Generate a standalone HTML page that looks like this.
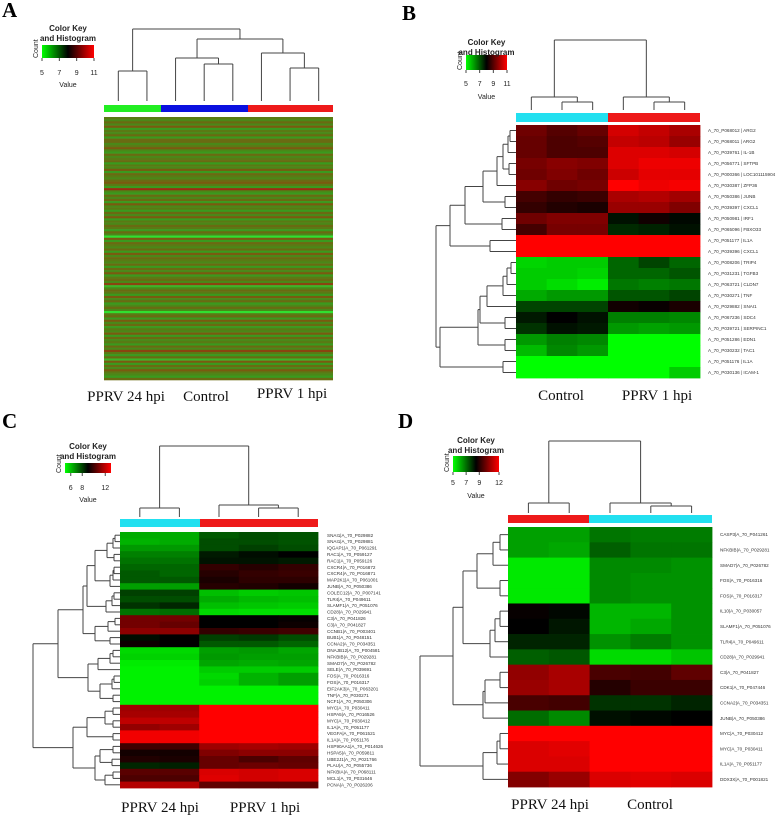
<!DOCTYPE html>
<html><head><meta charset="utf-8">
<style>
html,body{margin:0;padding:0;background:#fff;}
svg{display:block;}
.lbl{font-family:"Liberation Serif",serif;font-size:15px;fill:#111;}
.pl{font-family:"Liberation Serif",serif;font-size:21px;font-weight:bold;fill:#000;}
.kt{font-family:"Liberation Sans",sans-serif;font-size:8px;font-weight:bold;fill:#222;}
.kv{font-family:"Liberation Sans",sans-serif;font-size:7px;fill:#222;}
.rl{font-family:"Liberation Sans",sans-serif;font-size:4.6px;fill:#333;}
</style></head>
<body>
<svg id="fig" width="780" height="815" viewBox="0 0 780 815" xmlns="http://www.w3.org/2000/svg">
<text class="pl" x="2" y="17">A</text>
<text class="pl" x="402" y="20">B</text>
<text class="pl" x="2" y="428">C</text>
<text class="pl" x="398" y="428">D</text>
</svg>
<script>
// ---------- data ----------
const aRows = "43536243525534632534524362543564283253526342536243542530625435263543525362453713542635235304526352436253425374251625364325";
const aGroups = ["PPRV 24 hpi","Control","PPRV 1 hpi"];
const bGenes = ["A_70_P068012 | ARG2","A_70_P068011 | ARG2","A_70_P039761 | IL-1B","A_70_P056771 | SFTPB","A_70_P000366 | LOC101115904","A_70_P030387 | ZFP36","A_70_P050386 | JUNB","A_70_P039397 | CXCL1","A_70_P050981 | IRF1","A_70_P065096 | FBXO33","A_70_P051177 | IL1A","A_70_P039396 | CXCL1","A_70_P008206 | TRIP4","A_70_P031231 | TGFB3","A_70_P063721 | CLDN7","A_70_P030271 | TNF","A_70_P029882 | SNAI1","A_70_P067236 | SDC4","A_70_P039721 | SERPINC1","A_70_P051286 | EDN1","A_70_P030232 | TAC1","A_70_P051176 | IL1A","A_70_P030136 | ICAM-1"];
const bValues = [[9.3,9.0,9.2,10.5,10.3,10.0],[9.2,8.9,9.0,10.3,10.2,9.8],[9.2,8.9,8.9,10.6,10.6,10.5],[9.4,9.6,9.5,10.6,10.8,10.8],[9.3,9.5,9.3,10.4,10.7,10.7],[9.6,9.3,9.4,11,10.8,10.9],[8.8,8.6,8.7,10.0,10.1,9.9],[8.6,8.4,8.3,9.8,9.8,9.5],[9.3,9.5,9.5,7.8,8.2,7.9],[8.8,9.4,9.4,7.5,7.6,7.8],[11,11,11,11,11,11],[11,11,11,11,11,11],[5.5,5.6,5.6,6.8,7.2,6.8],[5.6,5.6,5.5,6.8,6.8,7.0],[5.6,5.4,5.2,6.6,6.5,6.6],[6.0,6.2,6.2,7.0,7.0,7.2],[7.2,7.2,7.2,8.2,8.1,8.3],[7.7,8.0,7.8,6.5,6.5,6.4],[7.4,7.8,7.7,6.2,6.1,6.2],[6.2,6.5,6.4,5,5,5],[5.8,6.4,6.2,5,5,5],[5,5,5,5,5,5],[5,5,5,5,5,5.6]];
const bGroups = ["Control","PPRV 1 hpi"];
const bTicks = [5,7,9,11];
const cGenes = ["SNAI1|A_70_P029882","SNAI1|A_70_P029881","IQGAP1|A_70_P061291","RAC1|A_70_P059127","RAC1|A_70_P059126","CXCR4|A_70_P016872","CXCR4|A_70_P016871","MAP2K1|A_70_P061001","JUNB|A_70_P050386","COLEC12|A_70_P007141","TLR4|A_70_P049611","SLAMF1|A_70_P051076","CD28|A_70_P029941","C3|A_70_P041826","C3|A_70_P041827","CCNB1|A_70_P003401","BUB1|A_70_P048151","CCNA2|A_70_P034351","DNAJB12|A_70_P004581","NFKBIB|A_70_P029281","SMAD7|A_70_P026782","SELE|A_70_P039691","FOS|A_70_P016316","FOS|A_70_P016317","EIF2AK3|A_70_P063201","TNF|A_70_P030271","NCF1|A_70_P050306","MYC|A_70_P030411","HSPA5|A_70_P016526","MYC|A_70_P030412","IL1A|A_70_P051177","VEGFA|A_70_P061521","IL1A|A_70_P051176","HSP90AA1|A_70_P014626","HSPA5|A_70_P059811","UBE2J1|A_70_P021766","PLAU|A_70_P055736","NFKBIA|A_70_P068111","MCL1|A_70_P031646","PCNA|A_70_P026206"];
const cValues = [[6.3,6.3,7.6,7.8,7.7],[6.2,6.3,7.8,7.8,7.7],[6.6,6.6,7.8,8.0,7.8],[7.0,7.0,8.6,8.8,9.0],[7.2,7.2,8.7,8.7,8.6],[7.4,7.4,9.8,9.6,9.8],[7.6,7.4,9.6,9.8,9.9],[7.6,7.6,9.4,9.7,9.7],[6.5,6.5,9.6,9.5,9.3],[8.0,8.0,6.0,5.8,5.9],[7.8,7.8,6.3,6.1,6.0],[8.2,8.4,6.0,5.9,5.8],[7.2,7.3,5.6,5.5,5.5],[10.8,10.8,9.0,9.0,9.1],[10.8,10.6,9.0,9.0,9.2],[11.2,11.2,9.8,9.9,10],[8.8,9.0,8.0,8.1,7.8],[9.2,9.0,7.6,7.6,7.4],[5.6,5.6,6.5,6.6,6.4],[5.7,5.7,6.6,6.5,6.5],[5.3,5.3,6.4,6.3,6.4],[5.2,5.2,5.8,5.8,5.8],[5.2,5.2,5.6,6.2,6.5],[5.2,5.2,5.7,6.2,6.5],[5.2,5.2,5.2,5.2,5.2],[5.2,5.2,5.2,5.2,5.2],[5.2,5.2,5.2,5.2,5.2],[11.5,11.5,13,13,13],[11.6,11.6,13,13,13],[12.0,12.0,13,13,13],[11.3,11.5,13,13,13],[12.8,12.8,13,13,13],[12.8,12.8,13,13,13],[10.0,10.0,11.5,11.6,11.5],[9.3,9.3,11.0,11.2,11.2],[9.5,9.4,10.6,10.2,10.5],[8.4,8.5,10.6,10.7,10.6],[10.4,10.4,12.4,12.3,12.4],[10.2,10.2,12.5,12.3,12.4],[11.8,11.8,10.5,10.5,10.5]];
const cGroups = ["PPRV 24 hpi","PPRV 1 hpi"];
const cTicks = [6,8,12];
const dGenes = ["CASP3|A_70_P041261","NFKBIB|A_70_P029281","SMAD7|A_70_P026782","FOS|A_70_P016316","FOS|A_70_P016317","IL10|A_70_P030057","SLAMF1|A_70_P051076","TLR4|A_70_P049611","CD28|A_70_P029941","C3|A_70_P041827","CDK1|A_70_P047446","CCNA2|A_70_P034351","JUNB|A_70_P050386","MYC|A_70_P030412","MYC|A_70_P030411","IL1A|A_70_P051177","DDX3X|A_70_P001821"];
const dValues = [[6.3,6.3,6.9,6.8,6.8],[6.3,6.2,7.2,6.9,6.9],[5.3,5.3,6.6,6.6,6.5],[5.3,5.3,6.6,6.5,6.5],[5.3,5.3,6.6,6.5,6.5],[8.6,8.4,6.0,6.0,6.5],[8.5,8.2,6.0,6.2,6.5],[8.0,8.0,6.5,6.8,6.5],[7.2,7.3,5.5,5.5,5.8],[10.5,10.8,9.5,9.4,9.8],[10.6,10.8,9.0,9.3,9.3],[9.5,9.4,7.8,7.8,8.0],[7.0,6.6,8.3,8.4,8.5],[12,12,12,12,12],[11.5,11.6,12,12,12],[11.5,11.5,12,12,12],[10.3,10.6,11.5,11.6,11.5]];
const dGroups = ["PPRV 24 hpi","Control"];
const dTicks = [5,7,9,12];

// ---------- helpers ----------
const svg = document.getElementById('fig');
const NS = "http://www.w3.org/2000/svg";
function mk(tag, attrs, parent){ const e=document.createElementNS(NS,tag); for(const k in attrs) e.setAttribute(k,attrs[k]); (parent||svg).appendChild(e); return e; }
function gbr(v,min,max){ let t=(v-min)/(max-min); t=Math.max(0,Math.min(1,t));
  if(t<0.5){ return `rgb(0,${Math.round(255*(1-2*t))},0)`; } return `rgb(${Math.round(255*(2*t-1))},0,0)`; }
function line(x1,y1,x2,y2,p){ const l=mk('line',{x1,y1,x2,y2,stroke:'#444','stroke-width':1},p);
  
   return l; }
function rowTree(node, leafY, leafX, g){
  if(typeof node==='number') return {y:leafY(node), x:leafX};
  const l=rowTree(node[1],leafY,leafX,g), r=rowTree(node[2],leafY,leafX,g);
  line(node[0],l.y,l.x,l.y,g); line(node[0],r.y,r.x,r.y,g); line(node[0],l.y,node[0],r.y,g);
  return {y:(l.y+r.y)/2, x:node[0]};
}
function colTree(node, leafX, leafY, g){
  if(typeof node==='number') return {x:leafX(node), y:leafY};
  const l=colTree(node[1],leafX,leafY,g), r=colTree(node[2],leafX,leafY,g);
  line(l.x,node[0],l.x,l.y,g); line(r.x,node[0],r.x,r.y,g); line(l.x,node[0],r.x,node[0],g);
  return {x:(l.x+r.x)/2, y:node[0]};
}
function colorKey(name,x,y,w,h,ticks,min,max,titleY,tickY,valueY,palette){
  const g=mk('g',{});
  
  
  const id=name+'-grad';
  const defs=mk('defs',{},g);
  const lg=mk('linearGradient',{id:id,x1:0,x2:1,y1:0,y2:0},defs);
  (palette||['#00ff00','#000000','#ff0000']).forEach((c,i,a)=>mk('stop',{offset:i/(a.length-1),'stop-color':c},lg));
  mk('rect',{x,y,width:w,height:h,fill:`url(#${id})`},g);
  const cx=x+w/2;
  const t1=mk('text',{x:cx,y:titleY,'text-anchor':'middle',class:'kt'},g); t1.textContent='Color Key';
  const t2=mk('text',{x:cx,y:titleY+10,'text-anchor':'middle',class:'kt'},g); t2.textContent='and Histogram';
  ticks.forEach(v=>{ const tx=x+(v-min)/(max-min)*w;
    line(tx,y+h,tx,y+h+3,g);
    const t=mk('text',{x:tx,y:tickY,'text-anchor':'middle',class:'kv'},g); t.textContent=v;
    
     });
  const v=mk('text',{x:cx,y:valueY,'text-anchor':'middle',class:'kv'},g); v.textContent='Value';
  v.setAttribute('font-size','9');
  const c=mk('text',{x:x-4,y:y+h,'text-anchor':'start',class:'kv',transform:`rotate(-90 ${x-4} ${y+h})`,'font-size':6},g); c.textContent='Count';
  return g;
}
function heat(name, vals, genes, x0,y0,x1,y1, min,max, labelX, rowTreeDef, treeLeafX){
  const g=mk('g',{});
  
  
  const nr=vals.length, nc=vals[0].length, rh=(y1-y0)/nr, cw=(x1-x0)/nc;
  vals.forEach((row,i)=>row.forEach((v,j)=>{
    const r=mk('rect',{x:x0+j*cw,y:y0+i*rh,width:cw+0.4,height:rh+0.4,fill:gbr(v,min,max)},g);
    
    
  }));
  genes.forEach((s,i)=>{ const t=mk('text',{x:labelX,y:y0+(i+0.5)*rh+1.6,class:'rl'},g); t.textContent=s;
    
     });
  rowTree(rowTreeDef, i=>y0+(i+0.5)*rh, treeLeafX, g);
  return g;
}
function groupBar(segs,y,h){ segs.forEach(s=>{ const r=mk('rect',{x:s[0],y:y,width:s[1]-s[0],height:h,fill:s[2]});
  
   }); }
function glabel(txt,x,y){ const t=mk('text',{x,y,'text-anchor':'middle',class:'lbl'}); t.textContent=txt;
  
   }

// ---------- Panel A ----------
const aPal=['#30e030','#3cb428','#3a9a1e','#4a8818','#5a7a14','#6a6a12','#7a5a10','#8a4410','#9a2c10','#b01810'];
(function(){
  const g=mk('g',{});
  
  
  const x0=104,x1=333,y0=117,y1=380,n=aRows.length,rh=(y1-y0)/n;
  for(let i=0;i<n;i++){ const v=+aRows[i];
    [[104,161],[161,248],[248,333]].forEach((s,k)=>{
      const r=mk('rect',{x:s[0],y:y0+i*rh,width:s[1]-s[0],height:rh+0.3,fill:aPal[v]},g);
      
      
    }); }
  groupBar([[104,161,'#22ee22'],[161,248,'#0a10e0'],[248,333,'#ee1a1a']],105,7);
  colTree([29,[71,0,1],[39,[58,2,[64,3,4]],[53,5,[68,6,7]]]], i=>104+(x1-x0)/8*(i+0.5), 101, g);
  aGroups.forEach((s,i)=>glabel(s,[126,206,292][i],[401,401,398][i]));
  colorKey('panel-a-color-key',42,45,52,13,[5,7,9,11],5,11,31,75,87,['#00ff00','#000000','#ff0000']);
})();

// ---------- Panel B ----------
heat('panel-b-heatmap',bValues,bGenes,516,125,700,378,5,11,708,
  [436,[450,[465,[483,[497,[503,[508,[510,0,1],2],[509,3,4]],5],[505,6,7]],[502,8,9]],[490,10,11]],
        [440,[478,[480,[487,[503,[507,[511,12,13],14],15],16],[505,17,18]],[505,19,20]],[503,21,22]]],516);
groupBar([[516,608,'#22e0f0'],[608,700,'#ee1a1a']],113,9);
colTree([40,[97,0,[102,1,2]],[97,3,[102,4,5]]], i=>516+(184/6)*(i+0.5),110);
glabel(bGroups[0],561,400); glabel(bGroups[1],657,400);
colorKey('panel-b-color-key',466,55,41,15,bTicks,5,11,45,86,99);

// ---------- Panel C ----------
(function(){
  const A1=[95,[107,[113,[115,0,1],2],[114,3,4]],[110,[113,[114,5,6],7],8]];
  const A2=[106,[112,[114,9,10],11],12];
  const A3=[95,[108,[115,13,14],15],[110,16,17]];
  const A=[83,[87,A1,A2],A3];
  const B=[88,[98,[110,[113,18,19],20],21],[100,[112,[114,22,23],24],[113,25,26]]];
  const R1=[87,[105,[113,27,28],[113,29,30]],[113,31,32]];
  const R2=[95,[100,[113,33,34],[112,35,36]],[105,[113,37,38],39]];
  heat('panel-c-heatmap',cValues,cGenes,120,532,318,788,5,13,327,[33,[58,A,B],[73,R1,R2]],120);
})();
groupBar([[120,200,'#22e0f0'],[200,318,'#ee1a1a']],519,8);
colTree([446,[508,0,1],[505,2,[508,3,4]]], i=>120+(198/5)*(i+0.5),517);
glabel(cGroups[0],160,812); glabel(cGroups[1],265,812);
colorKey('panel-c-color-key',65,463,46,10,cTicks,5,13,449,490,502);

// ---------- Panel D ----------
(function(){
  const G1=[477,[493,[500,0,1],2],[500,3,4]];
  const G2=[490,[495,[500,5,6],7],8];
  const G3=[483,[485,[500,9,10],11],12];
  const R=[483,[497,[500,13,14],15],16];
  heat('panel-d-heatmap',dValues,dGenes,508,527,712,787,5,12,720,[420,[453,[463,G1,G2],G3],R],508);
})();
groupBar([[508,589,'#ee1a1a'],[589,712,'#22e0f0']],515,8);
colTree([441,[503,0,1],[503,2,[506,3,4]]], i=>508+(204/5)*(i+0.5),513);
glabel(dGroups[0],550,809); glabel(dGroups[1],650,809);
colorKey('panel-d-color-key',453,456,46,16,dTicks,5,12,443,485,498);
</script>
</body></html>
